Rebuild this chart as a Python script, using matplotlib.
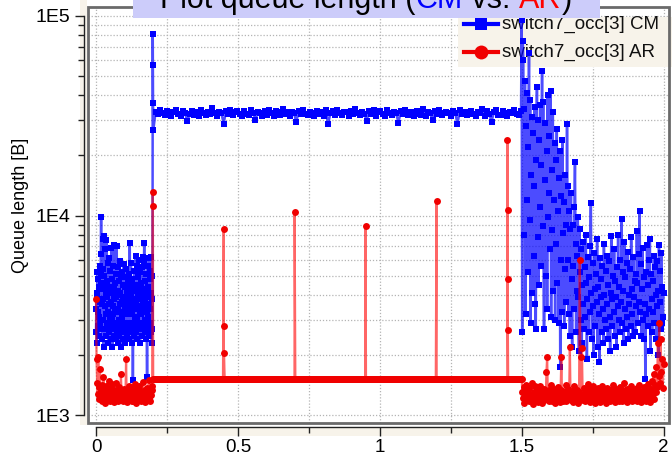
import numpy as np
import matplotlib
matplotlib.use("Agg")
import matplotlib.pyplot as plt
from matplotlib.patches import Rectangle
from matplotlib.lines import Line2D
from matplotlib.ticker import FixedLocator, FixedFormatter, LogLocator, NullFormatter, FuncFormatter

plt.rcParams['font.family'] = ['Liberation Sans', 'DejaVu Sans']

# ---------------------------------------------------------------- data
# queue occupancy of switch7 port 3, in bytes

# phase A: 0 s .. 0.2 s
CM_STEP_A = 0.001
CM_A = [2600, 3400, 4100, 2300, 3900, 5200, 2800, 3300, 4800, 2500,
        3100, 4400, 2700, 5600, 3700, 2900, 4600, 6400, 9800, 5100,
        3600, 2400, 4300, 7600, 5400, 3000, 3800, 2200, 5000, 7900,
        4500, 2700, 3500, 6800, 4000, 2500, 3200, 7500, 4700, 2900,
        3900, 5800, 3300, 2300, 4200, 6100, 3600, 2600, 4400, 3100,
        5300, 2800, 3700, 2400, 6900, 4100, 3000, 4800, 2200, 3500,
        5600, 3200, 2500, 4300, 7100, 3800, 2700, 4600, 3300, 2400,
        5100, 3900, 2900, 7000, 4000, 2600, 3400, 5500, 2300, 4200,
        3000, 4700, 2500, 3600, 5900, 2800, 4100, 3300, 2200, 4900,
        3700, 2600, 5200, 3100, 2400, 4500, 3800, 2900, 5700, 3300,
        2700, 4400, 3500, 2300, 4900, 3900, 2600, 5400, 3200, 4100,
        2500, 3600, 4700, 2900, 3300, 5100, 2400, 4300, 3800, 7300,
        4600, 2800, 3500, 5800, 2600, 4000, 3200, 2300, 4800, 3600,
        1500, 2900, 4200, 3400, 2500, 5300, 3800, 2700, 4500, 3100,
        6300, 3700, 2600, 4400, 3000, 5600, 2400, 3900, 4900, 2800,
        3500, 6000, 2700, 4100, 3300, 2300, 5200, 3800, 2900, 4600,
        3200, 5500, 2500, 4300, 6200, 3600, 2800, 4000, 3400, 5900,
        7300, 3000, 4700, 2600, 3700, 5100, 2400, 4200, 3300, 2700,
        1550, 3900, 5600, 2800, 4400, 3100, 6100, 2500, 3600, 4800,
        2900, 5300, 3400, 4100, 2600, 6200, 3800, 2300, 5000, 2700]
AR_STEP_A = 0.002
AR_A = [3800, 1900, 1450, 1280, 1950, 1200, 1380, 1700, 1250, 1320,
        1180, 1420, 1260, 1550, 1200, 1330, 1150, 1400, 1270, 1220,
        1350, 1190, 1300, 1480, 1240, 1170, 1360, 1260, 1210, 1430,
        1280, 1160, 1340, 1230, 1290, 1200, 1450, 1250, 1180, 1310,
        1220, 1380, 1270, 1190, 1600, 1240, 1330, 1170, 1290, 1210,
        1350, 1200, 1270, 1910, 1230, 1160, 1320, 1250, 1400, 1190,
        1280, 1220, 1370, 1180, 1260, 1310, 1170, 1240, 1430, 1200,
        1290, 1150, 1350, 1230, 1270, 1190, 1400, 1250, 1210, 1320,
        1180, 1300, 1240, 1460, 1200, 1270, 1160, 1340, 1220, 1280,
        1370, 1190, 1250, 1500, 1210, 1300, 1170, 1260, 1400, 1330]

# burst at 0.2 s
BURST_T = [0.2, 0.2005, 0.201]
CM_BURST = [81000, 57000, 36600]
AR_BURST = [13100, 11100]

# phase B: 0.202 s .. 1.498 s
CM_B_START, CM_B_STEP = 0.202, 0.008
CM_B = [26800, 33200, 32100, 33600, 32500, 31800, 33400, 32900, 31600, 33000,
        33700, 32200, 31500, 33300, 32800, 29600, 32400, 33500, 32000, 33100,
        31700, 33800, 32600, 31900, 33200, 32300, 34400, 32700, 31400, 33000,
        32500, 28900, 33400, 32100, 33600, 31800, 32900, 33300, 32200, 31600,
        33500, 32400, 31900, 33700, 32800, 30200, 33100, 32600, 31700, 33400,
        32000, 33600, 32500, 31500, 33300, 32900, 31800, 34300, 32300, 33000,
        31600, 33200, 32700, 29300, 33500, 32100, 33800, 32400, 31900, 33100,
        32800, 31700, 33400, 32200, 33000, 31500, 33600, 28700, 32600, 33300,
        32000, 33700, 32500, 31800, 33200, 32900, 31600, 33500, 32300, 34200,
        32700, 31900, 33100, 32400, 29900, 33400, 32100, 33800, 31700, 32900,
        33300, 32200, 31500, 33600, 32800, 31900, 33000, 32500, 29100, 33400,
        32300, 33700, 31800, 32900, 33200, 31600, 33500, 32400, 32000, 34300,
        31700, 33100, 32600, 30100, 33300, 32200, 33800, 31900, 32700, 33000,
        32500, 31600, 33400, 32800, 28800, 33600, 32100, 33200, 31800, 32900,
        33500, 32300, 31700, 33000, 32600, 34100, 31500, 33300, 32400, 29500,
        32900, 33700, 32000, 31800, 33400, 32500, 31600, 33100, 32800, 33600,
        32200, 31900, 33500]
AR_B_START, AR_B_END, AR_B_STEP = 0.2015, 1.4995, 0.003
AR_B_LEVEL = 1520
AR_SPIKE_T = [0.450, 0.4505, 0.451, 0.700, 0.950, 1.200, 1.450, 1.4505, 1.451, 1.4515]
AR_SPIKE_V = [8600, 2800, 2050, 10400, 8850, 11800, 23900, 4800, 10600, 2670]

# phase C: 1.5 s .. 2.0 s
C_START = 1.5
CM_STEP_C = 0.002
CM_C = [95000, 2600, 75000, 60000, 8000, 34000, 47000, 3200, 28000, 12000,
        41000, 5200, 22000, 65000, 9500, 38000, 2900, 16000, 31000, 4100,
        26000, 14000, 6300, 35000, 3600, 2700, 19000, 44000, 7800, 30000,
        4500, 24000, 11000, 36000, 5600, 18000, 53000, 8900, 37000, 2700,
        2700, 15000, 29000, 5000, 21000, 3400, 40000, 9800, 13000, 25000,
        6800, 42000, 3100, 17000, 8500, 33000, 4200, 12000, 23000, 3000,
        19000, 7200, 27000, 4600, 10500, 2900, 15500, 21000, 1740, 6000,
        12500, 3300, 24000, 8200, 11700, 2800, 16000, 5400, 9000, 3700,
        28700, 6000, 14000, 3200, 10500, 2500, 8600, 13000, 4800, 2200,
        9000, 5600, 3400, 11000, 18500, 7200, 2600, 6300, 4200, 9800,
        3900, 2100, 8600, 5200, 3000, 6800, 2300, 4500, 7400, 3600,
        2700, 5500, 3100, 8000, 4600, 1900, 3800, 6200, 2600, 4900,
        3300, 7000, 11600, 4100, 2400, 5800, 3500, 2000, 6500, 4300,
        2800, 5100, 3700, 7600, 2200, 4400, 3200, 1850, 6100, 3900,
        4800, 2600, 5600, 3400, 2300, 7200, 4000, 3000, 5300, 2700,
        6300, 3600, 2400, 4500, 5900, 3100, 2100, 4100, 7900, 3800,
        2800, 5000, 3300, 6800, 2500, 4700, 3900, 2200, 5500, 3500,
        8000, 3000, 4400, 2600, 6000, 3700, 9600, 2900, 5200, 4200,
        2300, 7400, 3400, 4900, 2700, 5800, 3100, 6600, 2400, 4000,
        3600, 5400, 2800, 7800, 4300, 3200, 2500, 6200, 3900, 4700,
        2600, 5100, 3500, 8400, 4600, 2900, 6400, 3700, 10500, 3300,
        5700, 2500, 4300, 6900, 3000, 4900, 2400, 3600, 1520, 5200,
        3200, 7100, 2800, 4500, 6000, 3400, 7600, 2100, 5100, 3800,
        2600, 4700, 3300, 6300, 2900, 5500, 4000, 2400, 5900, 3500,
        4200, 2000, 7100, 3700, 5300, 2700, 6500, 2900, 4400, 3100,
        4100]
AR_STEP_C = 0.0025
AR_C = [1520, 1300, 1210, 1380, 1150, 1260, 1420, 1190, 1330, 1240,
        1170, 1360, 1280, 1200, 1450, 1230, 1140, 1310, 1250, 1390,
        1180, 1270, 1340, 1160, 1290, 1220, 1400, 1200, 1310, 1150,
        1260, 1350, 1190, 1280, 1230, 1640, 1950, 1210, 1330, 1170,
        1300, 1240, 1420, 1180, 1270, 1350, 1200, 1150, 1320, 1250,
        1190, 1380, 1230, 1290, 1160, 1340, 1950, 1220, 1270, 1180,
        1310, 1240, 1410, 1170, 1280, 1200, 1350, 1260, 2190, 1190,
        1230, 1320, 1160, 1290, 1400, 1210, 1270, 1180, 1340, 1250,
        1150, 1300, 6000, 1220, 1950, 2160, 1280, 1190, 1360, 1240,
        1170, 1310, 1260, 1430, 1200, 1290, 1160, 1350, 1230, 1270,
        1190, 1400, 1250, 1150, 1320, 1220, 1280, 1180, 1370, 1240,
        1300, 1160, 1260, 1210, 1390, 1270, 1190, 1330, 1230, 1150,
        1290, 1370, 1200, 1260, 1170, 1340, 1240, 1310, 1190, 1420,
        1220, 1280, 1160, 1350, 1250, 1200, 1300, 1180, 1380, 1230,
        1270, 1170, 1330, 1210, 1290, 1450, 1190, 1260, 1350, 1160,
        1240, 1310, 1200, 1280, 1400, 1220, 1170, 1340, 1250, 1190,
        1300, 1230, 1360, 1180, 1270, 1210, 1410, 1260, 1160, 1320,
        1240, 1190, 1380, 1280, 1200, 1330, 1170, 1250, 1430, 1210,
        1290, 1160, 1350, 1230, 1480, 1270, 1600, 1200, 1420, 1310,
        1750, 1380, 2300, 1560, 2900, 1450, 2400, 1650, 1900, 1370,
        1800]

X_TICKS = [0, 0.5, 1, 1.5, 2]
X_TICK_LABELS = ["0", "0.5", "1", "1.5", "2"]
X_MINOR = [0.25, 0.75, 1.25, 1.75]

# ---------------------------------------------------------------- series
cm_t = np.concatenate([np.arange(len(CM_A)) * CM_STEP_A,
                       BURST_T,
                       CM_B_START + np.arange(len(CM_B)) * CM_B_STEP,
                       C_START + np.arange(len(CM_C)) * CM_STEP_C])
cm_v = np.concatenate([CM_A, CM_BURST, CM_B, CM_C]).astype(float)

t_b_ar = np.arange(AR_B_START, AR_B_END, AR_B_STEP)
ar_t = np.concatenate([np.arange(len(AR_A)) * AR_STEP_A,
                       BURST_T[:len(AR_BURST)],
                       t_b_ar, AR_SPIKE_T,
                       C_START + np.arange(len(AR_C)) * AR_STEP_C])
ar_v = np.concatenate([AR_A, AR_BURST, np.full(len(t_b_ar), AR_B_LEVEL),
                       AR_SPIKE_V, AR_C]).astype(float)
order = np.argsort(ar_t, kind="stable")
ar_t, ar_v = ar_t[order], ar_v[order]

# ---------------------------------------------------------------- figure
W, H = 672, 455
fig = plt.figure(figsize=(W / 100, H / 100), dpi=100)
fig.patch.set_facecolor("white")


def fx(p):
    return p / W


def fy(p):
    return 1 - p / H


L, R, T, B = 88, 669, 7, 423
ax = fig.add_axes([fx(L), fy(B), (R - L) / W, (B - T) / H])

BEIGE = "#f7f3ea"
# tinted strips behind the axis rulers
fig.patches.append(Rectangle((fx(80), fy(425)), 7 / W, 425 / H,
                             transform=fig.transFigure, fc=BEIGE, ec="none", zorder=-1))
fig.patches.append(Rectangle((fx(96), fy(436)), (663.5 - 96) / W, 9 / H,
                             transform=fig.transFigure, fc=BEIGE, ec="none", zorder=-1))

ax.set_yscale("log")
x0_px, x2_px = 96, 663.5
ppu = (x2_px - x0_px) / 2
ax.set_xlim(-(x0_px - L) / ppu, 2 + (R - x2_px) / ppu)
dec = 199.5
ax.set_ylim(10 ** (3 - (B - 415) / dec), 10 ** (5 + (16 - T) / dec))

# traces
ax.plot(cm_t, cm_v, color="blue", alpha=0.7, lw=1.8, zorder=3)
ax.plot(cm_t, cm_v, ls="none", marker="s", ms=5.0, mfc="blue", mec="blue", mew=0, zorder=3.1)
ax.plot(ar_t, ar_v, color="red", alpha=0.6, lw=1.6, zorder=4)
ax.plot(ar_t, ar_v, ls="none", marker="o", ms=5.0, mfc="#f00000", mec="#f00000", mew=0, zorder=4.1)

# grid
ax.xaxis.set_major_locator(FixedLocator(X_TICKS))
ax.xaxis.set_major_formatter(FixedFormatter(X_TICK_LABELS))
ax.xaxis.set_minor_locator(FixedLocator(X_MINOR))
ax.yaxis.set_major_locator(LogLocator(base=10, numticks=10))
ax.yaxis.set_minor_locator(LogLocator(base=10, subs=np.arange(2, 10), numticks=20))
ax.yaxis.set_minor_formatter(NullFormatter())
ax.yaxis.set_major_formatter(FuncFormatter(lambda v, p: "1E%d" % int(round(np.log10(v)))))
ax.set_axisbelow(True)
ax.grid(which="both", color="#b4b4b4", ls=(0, (1, 1.5)), lw=0.9)

# axis rulers offset from the frame
for s in ("top", "right"):
    ax.spines[s].set_visible(False)
ax.spines["left"].set_position(("outward", 3))
ax.spines["left"].set_bounds(1e3, 1e5)
ax.spines["bottom"].set_position(("outward", 3))
ax.spines["bottom"].set_bounds(0, 2)
for s in ("left", "bottom"):
    ax.spines[s].set_color("#222222")
    ax.spines[s].set_linewidth(1.0)

ax.tick_params(axis="y", which="major", length=6.5, width=1, pad=3, labelsize=14, color="#222222")
ax.tick_params(axis="y", which="minor", length=4.3, width=1, color="#222222")
ax.tick_params(axis="x", which="major", length=6.5, width=1, pad=2, labelsize=13.5, color="#222222")
ax.tick_params(axis="x", which="minor", length=4.0, width=1, color="#222222")

ax.set_ylabel("Queue length [B]", fontsize=13)
ax.yaxis.label.set_va("center")
ax.yaxis.set_label_coords((21 - L) / (R - L), (B - 205) / (B - T))

# plot frame
ax.add_patch(Rectangle((0, 0), 1, 1, transform=ax.transAxes, fill=False,
                       ec="#6a6a6a", lw=2, clip_on=False, zorder=6))

# legend box (drawn underneath the traces)
ax.add_patch(Rectangle((fx(458), fy(67)), (W - 458) / W, 50 / H, transform=fig.transFigure,
                       fc=BEIGE, ec="none", clip_on=False, zorder=2))
rows = [("switch7_occ[3] CM", "blue", "s", 8.6, 24),
        ("switch7_occ[3] AR", "#f00000", "o", 10.0, 52)]
for label, col, mk, msz, yy in rows:
    ax.add_line(Line2D([fx(464), fx(498)], [fy(yy), fy(yy)], transform=fig.transFigure,
                       color=col, lw=3, clip_on=False, zorder=2.2))
    ax.add_line(Line2D([fx(481)], [fy(yy)], transform=fig.transFigure, ls="none",
                       marker=mk, ms=msz, mfc=col, mec=col, mew=0, clip_on=False, zorder=2.3))
    ax.text(fx(502), fy(yy), label, transform=fig.transFigure, ha="left", va="center",
            fontsize=13.5, color="#111111", zorder=2.4, clip_on=False)

# title banner
fig.patches.append(Rectangle((fx(133), fy(18)), (600 - 133) / W, 18 / H,
                             transform=fig.transFigure, fc="#ccccfa", ec="none", zorder=10))
title_parts = [("Plot queue length (", "black"), ("CM", "blue"), (" vs. ", "black"),
               ("AR", "red"), (")", "black")]
TITLE_FS = 22
renderer = fig.canvas.get_renderer()


def text_width(s):
    a = fig.text(0, 0, "x" + s + "x", fontsize=TITLE_FS)
    b = fig.text(0, 0, "xx", fontsize=TITLE_FS)
    w = a.get_window_extent(renderer).width - b.get_window_extent(renderer).width
    a.remove()
    b.remove()
    return w


total = sum(text_width(s) for s, _ in title_parts)
xpos = 366 - total / 2
for s, col in title_parts:
    fig.text(fx(xpos), fy(8), s, fontsize=TITLE_FS, color=col, ha="left",
             va="baseline", zorder=11)
    xpos += text_width(s)

fig.savefig("out.png", dpi=100)
